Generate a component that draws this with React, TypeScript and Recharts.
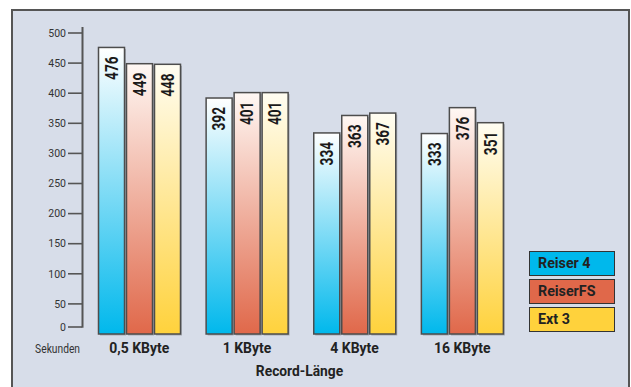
import { Bar, BarChart, Label, LabelList, XAxis, YAxis } from "recharts";

const categories = ["0,5 KByte", "1 KByte", "4 KByte", "16 KByte"];
const reiser4 = [476, 392, 334, 333];
const reiserFS = [449, 401, 363, 376];
const ext3 = [448, 401, 367, 351];
const yTicks = [0, 50, 100, 150, 200, 250, 300, 350, 400, 450, 500];

const series = [
  { key: "reiser4", name: "Reiser 4", color: "#00b8ec", top: "#ffffff" },
  { key: "reiserFS", name: "ReiserFS", color: "#e0684a", top: "#fff8f4" },
  { key: "ext3", name: "Ext 3", color: "#ffd23c", top: "#fffdf2" },
];

const data = categories.map((name, i) => ({
  name,
  reiser4: reiser4[i],
  reiserFS: reiserFS[i],
  ext3: ext3[i],
}));

const FONT = "Roboto, 'DejaVu Sans', sans-serif";

// the original uses a condensed face; squeeze Roboto horizontally instead
function SqText({ x, y, sx, rotate, children, ...rest }: any) {
  const t = `translate(${x} ${y})${rotate ? ` rotate(${rotate})` : ""} scale(${sx} 1)`;
  return (
    <text transform={t} x={0} y={0} fontFamily={FONT} {...rest}>
      {children}
    </text>
  );
}

function YTick({ x, y, payload }: any) {
  // zero tick sits a bit above the bar baseline in the original
  const v = payload.value;
  const yy = v === 0 ? y - 7 : y;
  return (
    <g>
      <line x1={x - 15} x2={x - 1} y1={yy} y2={yy} stroke="#555" strokeWidth={1.6} />
      <SqText x={x - 17} y={yy} sx={1} dy="0.36em" textAnchor="end" fontSize={10.5} fill="#333">
        {v}
      </SqText>
      {v === 0 && (
        <line x1={x - 0.5} x2={x - 0.5} y1={yy + 0.8} y2={yy - 300} stroke="#555" strokeWidth={2} />
      )}
    </g>
  );
}

function XTick({ x, y, payload }: any) {
  return (
    <SqText x={x} y={y + 19} sx={0.93} textAnchor="middle" fontWeight="bold" fontSize={15} fill="#222">
      {payload.value}
    </SqText>
  );
}

function ShadowBar({ x, y, width, height, fill }: any) {
  return (
    <g>
      <rect x={x + 1.5} y={y + 1.5} width={width} height={height} fill="rgba(0,0,0,0.22)" />
      <rect x={x} y={y} width={width} height={height} fill={fill} stroke="#4d4d4d" strokeWidth={1.5} />
    </g>
  );
}

function VLabel({ x, y, width, value }: any) {
  return (
    <SqText
      x={x + width / 2}
      y={y + 9}
      sx={0.78}
      rotate={-90}
      textAnchor="end"
      dominantBaseline="central"
      fontWeight="bold"
      fontSize={17.5}
      fill="#1a1a1a"
    >
      {value}
    </SqText>
  );
}

export default function App() {
  return (
    <div style={{ position: "absolute", left: 0, top: 0, width: 631, height: 387, overflow: "hidden", background: "#fff" }}>
      <div
        style={{
          position: "absolute",
          left: 11,
          top: 9,
          width: 615,
          height: 400,
          background: "#d7dde9",
          border: "2px solid #555",
        }}
      />
      <div style={{ position: "absolute", left: 0, top: 0 }}>
        <BarChart
          width={631}
          height={387}
          data={data}
          margin={{ top: 33, right: 115, left: 23, bottom: 33 }}
          barSize={26}
          barGap={2}
        >
          <defs>
            {series.map((s) => (
              <linearGradient key={s.key} id={`grad-${s.key}`} x1="0" y1="0" x2="0" y2="1">
                <stop offset="0%" stopColor={s.top} />
                <stop offset="100%" stopColor={s.color} />
              </linearGradient>
            ))}
          </defs>
          <XAxis
            dataKey="name"
            axisLine={false}
            tickLine={false}
            tickSize={0}
            tickMargin={0}
            height={20}
            padding={{ left: 2.5, right: 0 }}
            tick={<XTick />}
          >
            <Label
              content={({ viewBox }: any) => (
                <SqText
                  x={viewBox.x + viewBox.width / 2}
                  y={viewBox.y + 42}
                  sx={0.92}
                  textAnchor="middle"
                  fontWeight="bold"
                  fontSize={15}
                  fill="#222"
                >
                  Record-Länge
                </SqText>
              )}
            />
          </XAxis>
          <YAxis
            domain={[0, 500]}
            ticks={yTicks}
            width={60}
            axisLine={false}
            tickLine={false}
            tickSize={0}
            tickMargin={0}
            interval={0}
            tick={<YTick />}
          >
            <Label
              content={({ viewBox }: any) => (
                <SqText
                  x={viewBox.x + viewBox.width - 3}
                  y={viewBox.y + viewBox.height + 19}
                  sx={0.82}
                  textAnchor="end"
                  fontSize={12.5}
                  fill="#333"
                >
                  Sekunden
                </SqText>
              )}
            />
          </YAxis>
          {series.map((s) => (
            <Bar
              key={s.key}
              dataKey={s.key}
              name={s.name}
              fill={`url(#grad-${s.key})`}
              shape={<ShadowBar />}
              isAnimationActive={false}
            >
              <LabelList dataKey={s.key} content={<VLabel />} />
            </Bar>
          ))}
        </BarChart>
      </div>
      <div style={{ position: "absolute", left: 529, top: 251, width: 86 }}>
        {series.map((s) => (
          <div
            key={s.key}
            style={{
              boxSizing: "border-box",
              height: 25,
              marginBottom: 3,
              background: s.color,
              border: "1.5px solid #333",
              paddingLeft: 8,
              fontFamily: FONT,
              fontWeight: "bold",
              fontSize: 15,
              lineHeight: "22px",
              color: "#222",
              whiteSpace: "nowrap",
            }}
          >
            <span style={{ display: "inline-block", transform: "scaleX(0.95)", transformOrigin: "left center" }}>
              {s.name}
            </span>
          </div>
        ))}
      </div>
    </div>
  );
}
